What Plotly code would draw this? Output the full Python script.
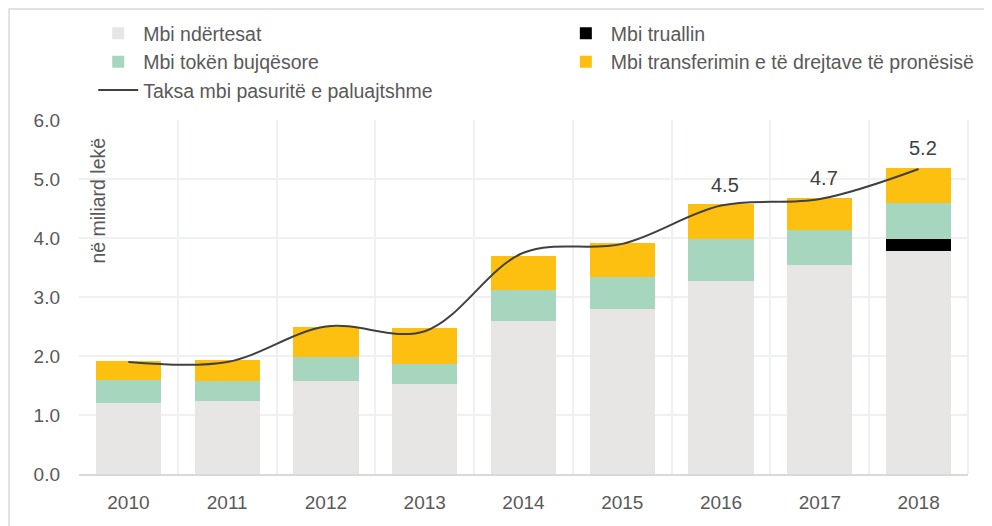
import plotly.graph_objects as go

years = ["2010", "2011", "2012", "2013", "2014", "2015", "2016", "2017", "2018"]
ndertesat = [1.21, 1.24, 1.58, 1.52, 2.59, 2.79, 3.27, 3.54, 3.78]
truallin = [0, 0, 0, 0, 0, 0, 0, 0, 0.20]
bujqesore = [0.39, 0.34, 0.40, 0.34, 0.53, 0.55, 0.72, 0.60, 0.62]
transferimi = [0.31, 0.36, 0.52, 0.61, 0.58, 0.58, 0.58, 0.54, 0.58]
taksa = [1.90, 1.90, 2.50, 2.42, 3.75, 3.90, 4.55, 4.66, 5.17]
taksa_labels = ["", "", "", "", "", "", "4.5", "4.7", "5.2"]

FONT = "Liberation Sans, Arial, sans-serif"
TXT = "#595959"

fig = go.Figure()
fig.add_trace(go.Bar(x=years, y=ndertesat, name="Mbi ndërtesat",
                     marker=dict(color="#E7E6E4", line=dict(width=0)), legend="legend"))
fig.add_trace(go.Bar(x=years, y=truallin, name="Mbi truallin",
                     marker=dict(color="#000000", line=dict(width=0)), legend="legend2"))
fig.add_trace(go.Bar(x=years, y=bujqesore, name="Mbi tokën bujqësore",
                     marker=dict(color="#A7D6BE", line=dict(width=0)), legend="legend"))
fig.add_trace(go.Bar(x=years, y=transferimi, name="Mbi transferimin e të drejtave të pronësisë",
                     marker=dict(color="#FDC010", line=dict(width=0)), legend="legend2"))
fig.add_trace(go.Scatter(x=years, y=taksa, name="Taksa mbi pasuritë e paluajtshme",
                         mode="lines",
                         line=dict(color="#404040", width=2, shape="spline", smoothing=1),
                         legend="legend"))

# category axis: annotation x uses the category index
label_annotations = [
    dict(x=i, y=val, xref="x", yref="y", text=lab, showarrow=False,
         yanchor="bottom", yshift=8, xshift=4,
         font=dict(size=20, color="#404040", family=FONT))
    for i, (val, lab) in enumerate(zip(taksa, taksa_labels)) if lab
]

legend_common = dict(orientation="v", traceorder="normal", bgcolor="rgba(0,0,0,0)",
                     font=dict(size=19.5, color=TXT, family=FONT),
                     xanchor="left", yanchor="top", tracegroupgap=0, itemwidth=40)

fig.update_layout(
    width=984, height=518,
    margin=dict(l=71, r=24, t=112, b=52, autoexpand=False),
    paper_bgcolor="white", plot_bgcolor="white",
    barmode="stack", bargap=0.34,
    font=dict(family=FONT, size=19, color=TXT),
    legend=dict(x=0.016, y=1.299, **legend_common),
    legend2=dict(x=0.542, y=1.299, **legend_common),
    xaxis=dict(type="category", tickson="boundaries", showgrid=True,
               gridcolor="#EEF0F2", gridwidth=2,
               showline=True, linecolor="#D9D9D9", linewidth=2, ticks="",
               tickfont=dict(size=19, color=TXT), ticklabelstandoff=10),
    yaxis=dict(range=[0, 6], dtick=1, tickformat=".1f", showgrid=True,
               gridcolor="#EEF0F2", gridwidth=2, zeroline=False, ticks="",
               tickfont=dict(size=19, color=TXT), ticklabelstandoff=18),
    annotations=[dict(text="në miliard lekë", xref="paper", yref="paper",
                      x=0.021, y=0.955, xanchor="center", yanchor="top",
                      textangle=-90, showarrow=False,
                      font=dict(size=19.5, color=TXT, family=FONT))] + label_annotations,
    shapes=[
        dict(type="rect", xref="paper", yref="paper",
             x0=-0.0787, x1=1.05, y0=-0.25, y1=1.3136,
             line=dict(color="#D9D9D9", width=1.5), layer="below"),
        dict(type="line", xref="paper", yref="paper", x0=1, x1=1, y0=0, y1=1,
             line=dict(color="#EEF0F2", width=2), layer="below"),
    ],
)

fig.write_html("out.html")
